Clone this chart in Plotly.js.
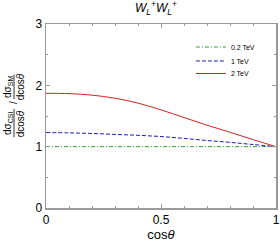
<!DOCTYPE html>
<html>
<head>
<meta charset="utf-8">
<script src="https://cdn.plot.ly/plotly-3.0.1.min.js"></script>
<style>html,body{margin:0;padding:0;background:#fff}#chart{width:280px;height:244px}</style>
</head>
<body>
<div id="chart"></div>
<script>
const cosTheta = [0, 0.1, 0.2, 0.3, 0.4, 0.5, 0.6, 0.7, 0.8, 0.9, 1.0];
const ratio02TeV = [1, 1, 1, 1, 1, 1, 1, 1, 1, 1, 1];
const ratio1TeV = [1.23, 1.225, 1.215, 1.20, 1.185, 1.165, 1.135, 1.10, 1.07, 1.035, 1.0];
const ratio2TeV = [1.87, 1.865, 1.84, 1.79, 1.71, 1.60, 1.475, 1.35, 1.235, 1.115, 1.0];
const seriesNames = ["0.2 TeV", "1 TeV", "2 TeV"];
const xTickVals = [0, 0.5, 1];
const xTickText = ["0", "0.5", "1"];
const yTickVals = [0, 1, 2, 3];
const yTickText = ["0", "1", "2", "3"];
const yLabelNumerators = ["dσ<sub>CSI</sub>", "dσ<sub>SM</sub>"];
const yLabelDenominator = "dcos<i>θ</i>";

const FONT = "Liberation Sans, Arial, sans-serif";
const axisColor = "#9a9a9a";

const traces = [
  {x: cosTheta, y: ratio02TeV, name: seriesNames[0], mode: "lines", legend: "legend",
   line: {color: "#2ca02c", width: 1, dash: "4px,2px,1px,2px"}},
  {x: cosTheta, y: ratio1TeV, name: seriesNames[1], mode: "lines", legend: "legend2",
   line: {color: "#1a1ab8", width: 1, dash: "4px,2px", shape: "spline"}},
  {x: cosTheta, y: ratio2TeV, name: seriesNames[2], mode: "lines", legend: "legend3",
   line: {color: "#cc2222", width: 1, shape: "spline"}}
];

const axisCommon = {
  showline: true, linecolor: axisColor, linewidth: 1.5, mirror: "ticks",
  ticks: "inside", ticklen: 4, tickcolor: axisColor, tickwidth: 1,
  showgrid: false, zeroline: false, automargin: false,
  tickfont: {family: FONT, size: 12, color: "#000"}
};

function legendAt(y) {
  return {x: 0.63, y: y, xanchor: "left", yanchor: "middle",
          bgcolor: "rgba(0,0,0,0)", font: {family: FONT, size: 7, color: "#000"}};
}

function rotText(text, x, y) {
  return {xref: "paper", yref: "paper", x: x, y: y, xanchor: "center", yanchor: "middle",
          textangle: -90, showarrow: false, text: text,
          font: {family: FONT, size: 10, color: "#000"}};
}

const layout = {
  width: 280, height: 244,
  margin: {l: 46, r: 4, t: 24, b: 36},
  paper_bgcolor: "#fff", plot_bgcolor: "#fff",
  showlegend: true,
  font: {family: FONT, color: "#000"},
  title: {text: "<i>W<sub>L</sub><sup>+</sup>W<sub>L</sub><sup>+</sup></i>",
          font: {family: FONT, size: 12, color: "#000"},
          xref: "paper", x: 0.478, xanchor: "center",
          yref: "container", y: 0.985, yanchor: "top"},
  xaxis: Object.assign({}, axisCommon, {
    range: [0, 1], tickvals: xTickVals, ticktext: xTickText,
    minor: {dtick: 0.1, ticks: "inside", ticklen: 2, tickcolor: axisColor},
    title: {text: "cos<i>θ</i>", font: {family: FONT, size: 13, color: "#000"}, standoff: 3}
  }),
  yaxis: Object.assign({}, axisCommon, {
    range: [0, 3], tickvals: yTickVals, ticktext: yTickText,
    minor: {dtick: 0.5, ticks: "inside", ticklen: 2, tickcolor: axisColor}
  }),
  legend: legendAt(0.875),
  legend2: legendAt(0.799),
  legend3: legendAt(0.731),
  annotations: [
    rotText(yLabelNumerators[0], -0.165, 0.457),
    rotText(yLabelDenominator, -0.107, 0.457),
    rotText("/", -0.139, 0.571),
    rotText(yLabelNumerators[1], -0.165, 0.658),
    rotText(yLabelDenominator, -0.107, 0.658)
  ],
  shapes: [
    {type: "line", xref: "paper", yref: "paper", x0: -0.139, x1: -0.139, y0: 0.385, y1: 0.538,
     line: {color: "#000", width: 0.8}},
    {type: "line", xref: "paper", yref: "paper", x0: -0.139, x1: -0.139, y0: 0.592, y1: 0.725,
     line: {color: "#000", width: 0.8}}
  ]
};

Plotly.newPlot("chart", traces, layout, {displayModeBar: false, staticPlot: true});
</script>
</body>
</html>
